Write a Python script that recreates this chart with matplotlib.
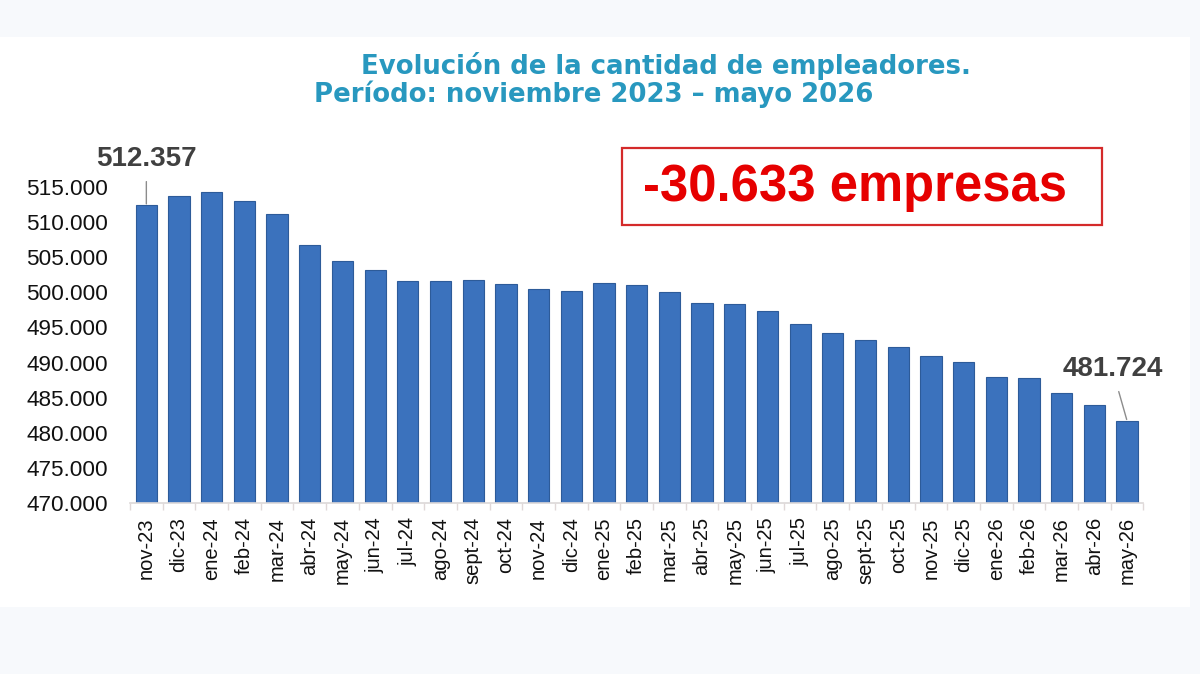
import matplotlib
matplotlib.use("Agg")
import matplotlib.pyplot as plt
from matplotlib.patches import Rectangle
from matplotlib.ticker import FuncFormatter

categories = ["nov-23", "dic-23", "ene-24", "feb-24", "mar-24", "abr-24", "may-24",
              "jun-24", "jul-24", "ago-24", "sept-24", "oct-24", "nov-24", "dic-24",
              "ene-25", "feb-25", "mar-25", "abr-25", "may-25", "jun-25", "jul-25",
              "ago-25", "sept-25", "oct-25", "nov-25", "dic-25", "ene-26", "feb-26",
              "mar-26", "abr-26", "may-26"]
empleadores = [512357, 513720, 514290, 512920, 511170, 506720, 504490,
               503120, 501610, 501560, 501790, 501220, 500510, 500190,
               501320, 501080, 500090, 498440, 498300, 497390, 495500,
               494220, 493220, 492230, 490950, 490060, 488010, 487830,
               485740, 483950, 481724]
yticks = [470000, 475000, 480000, 485000, 490000, 495000, 500000, 505000, 510000, 515000]

W, H = 1200, 674
fig = plt.figure(figsize=(12, 6.74), dpi=100, facecolor="#f7f9fc")

# white panel
fig.patches.append(Rectangle((0, (H - 607) / H), 1190 / W, (607 - 37) / H,
                             transform=fig.transFigure, facecolor="white",
                             edgecolor="none", zorder=-5))

ax = fig.add_axes([130 / W, (H - 503.3) / H, 1013.4 / W, 316.6 / H])
ax.set_zorder(1)
ax.set_facecolor("none")
x = list(range(len(categories)))
ax.bar(x, empleadores, width=0.65, color="#3b72bd", edgecolor="#2d5b99",
       linewidth=0.8, zorder=2)
ax.set_xlim(-0.5, len(categories) - 0.5)
ax.set_ylim(470000, 515000)
ax.set_yticks(yticks)
ax.yaxis.set_major_formatter(FuncFormatter(lambda v, p: f"{int(v):,}".replace(",", ".")))
ax.set_xticks(x)
ax.set_xticklabels(categories, rotation=90, fontsize=14.5, family="Liberation Sans",
                   color="#111111")
for lab in ax.get_yticklabels():
    lab.set_fontsize(16.2)
    lab.set_family("Liberation Sans")
    lab.set_color("#111111")
ax.tick_params(axis="y", length=0, pad=16)
ax.tick_params(axis="x", length=0, pad=10)
# minor ticks at category boundaries
ax.set_xticks([i - 0.5 for i in range(len(categories) + 1)], minor=True)
ax.tick_params(axis="x", which="minor", length=5, color="#e0d8d8", width=1)
for s in ["top", "right", "left"]:
    ax.spines[s].set_visible(False)
ax.spines["bottom"].set_color("#dcd8d8")
ax.spines["bottom"].set_linewidth(1.2)

# annotations
ax.annotate("512.357", xy=(0, empleadores[0]), xytext=(0, 512357 + 4750),
            ha="center", va="bottom", fontsize=20, fontweight="bold",
            family="Liberation Sans", color="#404040", annotation_clip=False,
            arrowprops=dict(arrowstyle="-", color="#8c8c8c", lw=1.0,
                            shrinkA=5, shrinkB=1))
ax.annotate("481.724", xy=(30, empleadores[-1]), xytext=(29.55, 481724 + 5500),
            ha="center", va="bottom", fontsize=20, fontweight="bold",
            family="Liberation Sans", color="#404040", annotation_clip=False,
            arrowprops=dict(arrowstyle="-", color="#8c8c8c", lw=1.0,
                            shrinkA=5, shrinkB=1))

# titles
tcol = "#2898bf"
fig.text(666 / W, 1 - 66.5 / H, "Evolución de la cantidad de empleadores.",
         ha="center", va="center", fontsize=18.7, fontweight="bold",
         family="DejaVu Sans", color=tcol)
fig.text(594 / W, 1 - 94.5 / H, "Período: noviembre 2023 – mayo 2026",
         ha="center", va="center", fontsize=18.7, fontweight="bold",
         family="DejaVu Sans", color=tcol)

# red box
fig.patches.append(Rectangle((622 / W, 1 - 225 / H), 480 / W, 77 / H,
                             transform=fig.transFigure, facecolor="white",
                             edgecolor="#d42a2a", linewidth=1.6, zorder=3))
fig.text(855 / W, 1 - 187.5 / H, "-30.633 empresas", ha="center", va="center",
         fontsize=36.5, fontweight="bold", family="Liberation Sans",
         color="#e60000", zorder=4)

fig.savefig("out.png", dpi=100, facecolor=fig.get_facecolor())
